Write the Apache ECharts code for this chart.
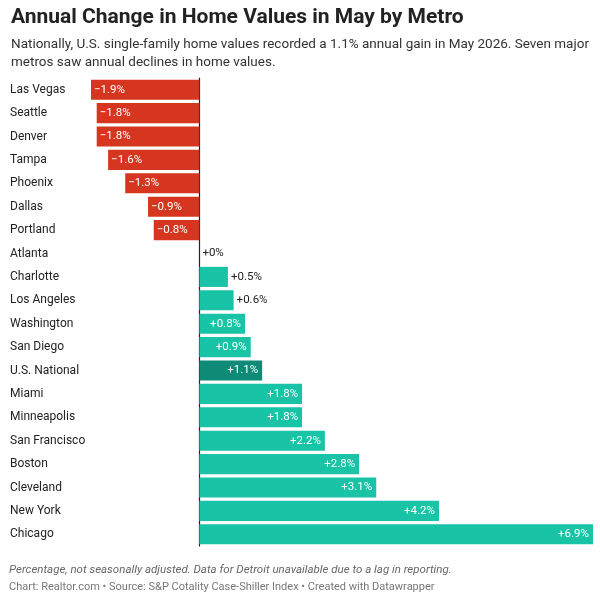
<!DOCTYPE html>
<html><head><meta charset="utf-8">
<script src="https://cdn.jsdelivr.net/npm/echarts@6/dist/echarts.min.js"></script>
<style>html,body{margin:0;background:#fff}#c{width:600px;height:597px}</style>
</head><body><div id="c"></div>
<script>
var metros = ['Las Vegas','Seattle','Denver','Tampa','Phoenix','Dallas','Portland','Atlanta','Charlotte','Los Angeles','Washington','San Diego','U.S. National','Miami','Minneapolis','San Francisco','Boston','Cleveland','New York','Chicago'];
var changes = [-1.9,-1.8,-1.8,-1.6,-1.3,-0.9,-0.8,0,0.5,0.6,0.8,0.9,1.1,1.8,1.8,2.2,2.8,3.1,4.2,6.9];

var chart = echarts.init(document.getElementById('c'));
var data = changes.map(function (v, i) {
    var color = v < 0 ? '#d6361f' : (metros[i] === 'U.S. National' ? '#0f8a76' : '#19c3a6');
    var txt = (v < 0 ? '\u2212' + Math.abs(v) : '+' + v) + '%';
    var label;
    if (v < 0) {
        label = {show: true, position: 'insideLeft', color: '#fff', formatter: txt, offset: [-2, 0]};
    } else if (v < 0.7) {
        label = {show: true, position: 'right', color: '#222', formatter: txt, distance: 3};
    } else {
        label = {show: true, position: 'insideRight', color: '#fff', formatter: txt, distance: 4};
    }
    return {value: v, itemStyle: {color: color}, label: label};
});
chart.setOption({
    textStyle: {fontFamily: 'Roboto'},
    title: {
        text: 'Annual Change in Home Values in May by Metro',
        subtext: 'Nationally, U.S. single-family home values recorded a 1.1% annual gain in May 2026. Seven major\nmetros saw annual declines in home values.',
        left: 6, top: 2,
        textStyle: {fontSize: 21, fontWeight: 'bold', color: '#222', fontFamily: 'Roboto'},
        subtextStyle: {fontSize: 13.5, color: '#333', lineHeight: 18, fontFamily: 'Roboto'},
        itemGap: 8
    },
    grid: {left: 91, right: 7, top: 78, bottom: 51},
    xAxis: {type: 'value', min: -1.9, max: 6.9, show: false},
    yAxis: {
        type: 'category', data: metros, inverse: true,
        axisTick: {show: false},
        axisLine: {show: true, onZero: true, lineStyle: {color: '#222', width: 1.2}},
        axisLabel: {align: 'left', margin: 81, color: '#222', fontSize: 12}
    },
    series: [{
        type: 'bar', data: data, barCategoryGap: '14%',
        label: {fontSize: 11.5}
    }],
    graphic: [
        {type: 'text', left: 9, top: 564, style: {text: 'Percentage, not seasonally adjusted. Data for Detroit unavailable due to a lag in reporting.', fill: '#666', fontSize: 11.5, fontStyle: 'italic', fontFamily: 'Roboto'}},
        {type: 'text', left: 9, top: 582, style: {text: 'Chart: Realtor.com \u2022 Source: S&P Cotality Case-Shiller Index \u2022 Created with Datawrapper', fill: '#777', fontSize: 11, fontFamily: 'Roboto'}}
    ]
});
</script></body></html>
